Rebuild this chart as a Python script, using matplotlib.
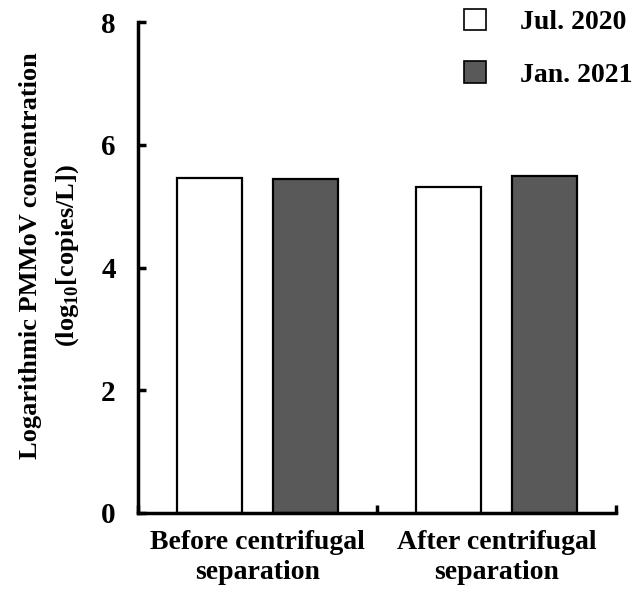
import matplotlib
matplotlib.use("Agg")
import matplotlib.pyplot as plt
import numpy as np

categories = ["Before centrifugal\nseparation", "After centrifugal\nseparation"]
series_names = ["Jul. 2020", "Jan. 2021"]
jul_2020 = [5.46, 5.31]
jan_2021 = [5.44, 5.49]
yticks = [0, 2, 4, 6, 8]

plt.rcParams['font.family'] = ['Liberation Serif', 'DejaVu Serif']
plt.rcParams['font.weight'] = 'bold'
plt.rcParams['mathtext.fontset'] = 'custom'
plt.rcParams['mathtext.rm'] = 'Liberation Serif:bold'
plt.rcParams['mathtext.bf'] = 'Liberation Serif:bold'

fig = plt.figure(figsize=(6.35, 5.99), dpi=100)
ax = fig.add_axes([0.2173, 0.1436, 0.9700 - 0.2173, 0.963 - 0.1436])

centers = np.arange(len(categories)) + 0.5
w = 0.27
off = 0.2
b1 = ax.bar(centers - off, jul_2020, width=w, color='white', edgecolor='black', linewidth=1.6, label=series_names[0])
b2 = ax.bar(centers + off, jan_2021, width=w, color='#595959', edgecolor='black', linewidth=1.6, label=series_names[1])

ax.set_xlim(0, 2)
ax.set_ylim(0, 8)
ax.set_yticks(yticks)
ax.set_yticklabels([str(v) for v in yticks], fontsize=21, fontweight='bold')
ax.set_xticks([0, 1, 2])
ax.set_xticklabels([])
ax.set_xticks(centers, minor=True)
ax.set_xticklabels(categories, minor=True, fontsize=20, fontweight='bold', linespacing=1.3)
ax.tick_params(axis='x', which='minor', length=0, pad=12)
ax.tick_params(axis='x', which='major', direction='in', length=6, width=2.5)
ax.tick_params(axis='y', direction='in', length=6, width=2.5, pad=16)

for s in ['top', 'right']:
    ax.spines[s].set_visible(False)
for s in ['left', 'bottom']:
    ax.spines[s].set_linewidth(2.5)

fig.text(0.079, 0.574, "Logarithmic PMMoV concentration\n(log$_{\\mathrm{10}}$[copies/L])",
         rotation=90, ha='center', va='center', fontsize=19, fontweight='bold',
         linespacing=1.62, multialignment='center')

leg = fig.legend(handles=[b1, b2], loc='upper right', bbox_to_anchor=(1.035, 1.027), frameon=False,
                 prop={'family': 'Liberation Serif', 'weight': 'bold', 'size': 20},
                 handlelength=0.8, handleheight=0.8, labelspacing=0.95, handletextpad=1.2)
for h in leg.legend_handles:
    h.set_linewidth(1.2)

fig.savefig("out.png", dpi=100)
